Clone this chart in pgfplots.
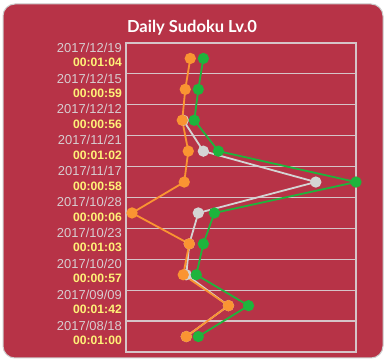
\documentclass[border=0pt]{standalone}
\usepackage{pgfplots}
\pgfplotsset{compat=1.18}
\usepackage{fontspec}
\setmainfont{Liberation Sans}
\newfontfamily\titlefont{Lato}
\definecolor{cardbg}{RGB}{183,51,71}
\definecolor{cardborder}{RGB}{205,205,205}
\definecolor{gridcol}{RGB}{214,196,200}
\definecolor{datecol}{RGB}{215,205,208}
\definecolor{timecol}{RGB}{255,242,120}
\definecolor{oran}{RGB}{250,148,50}
\definecolor{gree}{RGB}{30,180,60}
\definecolor{gray1}{RGB}{212,212,212}
\newcommand{\tm}[1]{{\color{timecol}\bfseries\fontsize{12.2}{14.5}\selectfont #1}}
\begin{document}
\begin{tikzpicture}
\useasboundingbox (0,0) rectangle (386bp,363bp);
\fill[white] (0,0) rectangle (386bp,363bp);
\draw[fill=cardbg, draw=cardborder, line width=1bp, rounded corners=12bp] (3bp,5bp) rectangle (383bp,359bp);
\node[font=\titlefont\bfseries\fontsize{16.6}{19}\selectfont, text=white] at (192bp,335.5bp) {Daily Sudoku Lv.0};
\begin{axis}[
  at={(126bp,11bp)}, anchor=south west,
  scale only axis, width=230bp, height=309bp,
  xmin=0, xmax=229, ymin=-0.5, ymax=9.5,
  xtick=\empty,
  ytick={0,...,9},
  yticklabels={
    {{\color{datecol}2017/08/18}\\\tm{00:01:00}},
    {{\color{datecol}2017/09/09}\\\tm{00:01:42}},
    {{\color{datecol}2017/10/20}\\\tm{00:00:57}},
    {{\color{datecol}2017/10/23}\\\tm{00:01:03}},
    {{\color{datecol}2017/10/28}\\\tm{00:00:06}},
    {{\color{datecol}2017/11/17}\\\tm{00:00:58}},
    {{\color{datecol}2017/11/21}\\\tm{00:01:02}},
    {{\color{datecol}2017/12/12}\\\tm{00:00:56}},
    {{\color{datecol}2017/12/15}\\\tm{00:00:59}},
    {{\color{datecol}2017/12/19}\\\tm{00:01:04}}
  },
  yticklabel style={align=right, anchor=east, inner sep=0pt, xshift=-4bp, yshift=3.7bp,
    font=\fontsize{13}{14.5}\selectfont},
  minor ytick={0.5,1.5,...,8.5},
  yminorgrids=true,
  minor grid style={gridcol, line width=1.2bp},
  major tick length=0pt, minor tick length=0pt,
  axis line style={gridcol, line width=1.2bp},
  clip=false,
]
\addplot[gray1, line width=1.8bp, mark=*, mark size=4.7bp, mark options={fill=gray1, draw=none}]
  coordinates {(57,7)(77,6)(189,5)(72,4)(63,3)(60,2)(102,1)(60,0)};
\addplot[gree, line width=1.8bp, mark=*, mark size=4.7bp, mark options={fill=gree, draw=none}]
  coordinates {(77,9)(72,8)(68,7)(92,6)(229,5)(88,4)(77,3)(70,2)(122,1)(72,0)};
\addplot[oran, line width=1.8bp, mark=*, mark size=4.7bp, mark options={fill=oran, draw=none}]
  coordinates {(64,9)(59,8)(56,7)(62,6)(58,5)(6,4)(63,3)(57,2)(102,1)(60,0)};
\end{axis}
\end{tikzpicture}
\end{document}
